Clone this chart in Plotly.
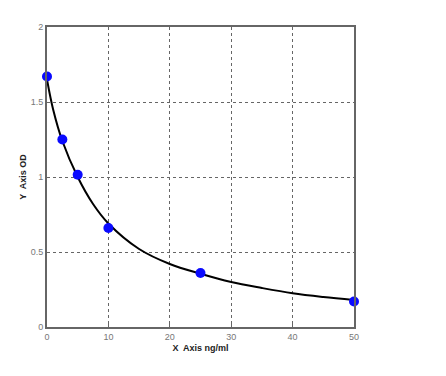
import plotly.graph_objects as go

# Standard points
conc = [0, 2.5, 5, 10, 25, 50]
od = [1.67, 1.25, 1.015, 0.66, 0.36, 0.17]

# Fitted curve
curve_x = [0, 1, 2.5, 5, 7.5, 10, 15, 20, 25, 30, 35, 40, 45, 50]
curve_y = [1.65, 1.45, 1.24, 1.0, 0.82, 0.69, 0.52, 0.42, 0.355, 0.30, 0.26, 0.225, 0.20, 0.18]

x_ticks = [0, 10, 20, 30, 40, 50]
y_ticks = [0, 0.5, 1, 1.5, 2]
y_tick_text = ["0", "0.5", "1", "1.5", "2"]

fig = go.Figure()
fig.add_trace(go.Scatter(x=curve_x, y=curve_y, mode="lines",
                         line=dict(color="black", width=2, shape="spline", smoothing=1.0),
                         hoverinfo="skip", showlegend=False, cliponaxis=False))
fig.add_trace(go.Scatter(x=conc, y=od, mode="markers",
                         marker=dict(color="#0a0aff", size=10),
                         showlegend=False, cliponaxis=False))

axis_common = dict(showgrid=True, gridcolor="#666666", griddash="dot", gridwidth=1,
                   showline=True, linecolor="#666666", linewidth=2, mirror=True,
                   zeroline=False, ticks="inside", ticklen=3, tickcolor="#666666",
                   tickfont=dict(family="Liberation Sans", size=9, color="#777777"))

fig.update_xaxes(range=[0, 50], tickvals=x_ticks, **axis_common,
                 title=dict(text="<b>X  Axis ng/ml</b>", standoff=4,
                            font=dict(family="Liberation Sans", size=9, color="#222222")))
fig.update_yaxes(range=[0, 2], tickvals=y_ticks, ticktext=y_tick_text, **axis_common,
                 title=dict(text="<b>Y  Axis OD</b>", standoff=3,
                            font=dict(family="Liberation Sans", size=9, color="#222222")))

fig.update_layout(width=446, height=376, margin=dict(l=47, r=92, t=27, b=49),
                  plot_bgcolor="white", paper_bgcolor="white")

fig.write_html("out.html")
